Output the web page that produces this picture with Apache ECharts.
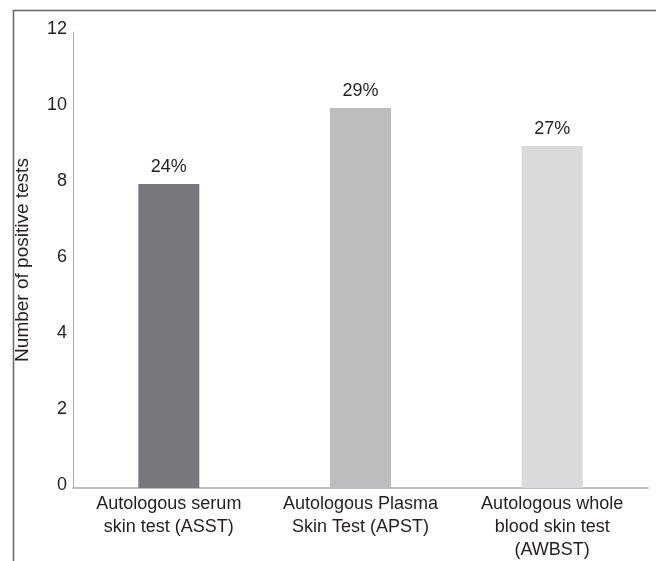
<!DOCTYPE html>
<html>
<head>
<meta charset="utf-8">
<script src="https://cdn.jsdelivr.net/npm/echarts@6/dist/echarts.min.js"></script>
<style>html,body{margin:0;padding:0;background:#fff}#c{width:657px;height:561px}</style>
</head>
<body>
<div id="c"></div>
<script>
var categories = ['Autologous serum\nskin test (ASST)', 'Autologous Plasma\nSkin Test (APST)', 'Autologous whole\nblood skin test\n(AWBST)'];
var values = [8, 10, 9];
var percentLabels = ['24%', '29%', '27%'];
var barColors = ['#77787b', '#bcbdbf', '#d9dadb'];
var yTicks = [0, 2, 4, 6, 8, 10, 12];

var chart = echarts.init(document.getElementById('c'));
var font = 'Liberation Sans, Arial, sans-serif';
var txt = '#231f20';
chart.setOption({
  animation: false,
  textStyle: { fontFamily: font },
  graphic: [
    { type: 'line', shape: { x1: 13, y1: 10.5, x2: 656, y2: 10.5 }, style: { stroke: '#666666', lineWidth: 1.5 } },
    { type: 'line', shape: { x1: 13.5, y1: 10, x2: 13.5, y2: 561 }, style: { stroke: '#666666', lineWidth: 1.5 } }
  ],
  grid: { left: 73, right: 9, top: 32, bottom: 73, containLabel: false, outerBoundsMode: 'none' },
  xAxis: {
    type: 'category',
    data: categories,
    axisLine: { show: true, lineStyle: { color: '#a7a9ac', width: 1.5 } },
    axisTick: { show: false },
    axisLabel: { color: txt, fontSize: 18, lineHeight: 23, margin: 5, interval: 0, fontFamily: font }
  },
  yAxis: {
    type: 'value',
    min: yTicks[0],
    max: yTicks[yTicks.length - 1],
    interval: 2,
    name: 'Number of positive tests',
    nameLocation: 'middle',
    nameGap: 41,
    nameTextStyle: { color: txt, fontSize: 19, fontFamily: font },
    axisLine: { show: true, lineStyle: { color: '#a7a9ac', width: 1 } },
    axisTick: { show: false },
    splitLine: { show: false },
    axisLabel: { color: txt, fontSize: 18, margin: 6, verticalAlign: 'bottom', lineHeight: 6, fontFamily: font }
  },
  series: [{
    type: 'bar',
    barWidth: 61,
    data: values.map(function (v, i) {
      return { value: v, itemStyle: { color: barColors[i] }, label: { formatter: percentLabels[i] } };
    }),
    label: { show: true, position: 'top', distance: 8, color: txt, fontSize: 18, fontFamily: font }
  }]
});
</script>
</body>
</html>
